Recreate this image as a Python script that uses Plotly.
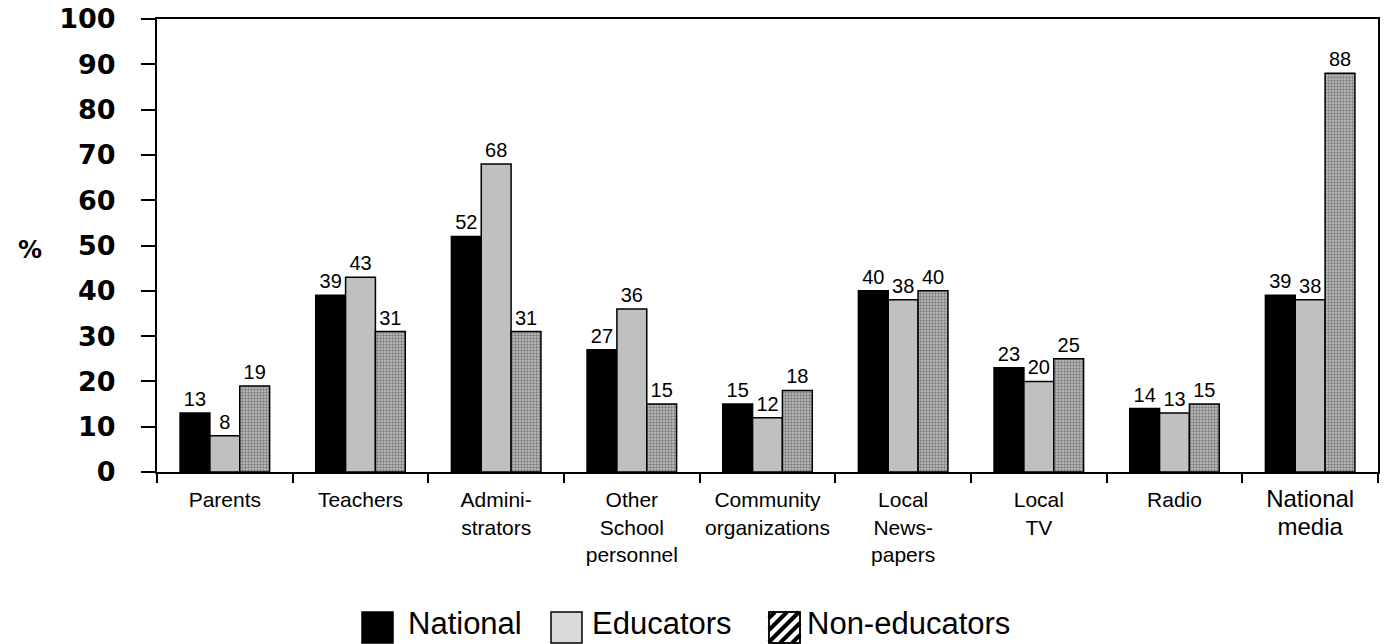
import plotly.graph_objects as go

categories = ["Parents", "Teachers", "Admini-<br>strators", "Other<br>School<br>personnel",
              "Community<br>organizations", "Local<br>News-<br>papers", "Local<br>TV", "Radio",
              "<span style='font-size:24px'>National<br>media</span>"]
national = [13, 39, 52, 27, 15, 40, 23, 14, 39]
educators = [8, 43, 68, 36, 12, 38, 20, 13, 38]
non_educators = [19, 31, 31, 15, 18, 40, 25, 15, 88]
y_ticks = [0, 10, 20, 30, 40, 50, 60, 70, 80, 90, 100]
series_names = ["National", "Educators", "Non-educators"]

W, H = 1385, 644
L, R, T, B = 157, 7, 19, 172
PW, PH = W - L - R, H - T - B


def px(x):
    return (x - L) / PW


def py(y):
    return (H - B - y) / PH


label_font = dict(family="Liberation Sans, Arial, sans-serif", size=20, color="black")

fig = go.Figure()
fig.add_trace(go.Bar(
    x=categories, y=national, name=series_names[0],
    marker=dict(color="black", line=dict(color="black", width=1.5)),
    text=national, textposition="outside", textfont=label_font, cliponaxis=False,
))
fig.add_trace(go.Bar(
    x=categories, y=educators, name=series_names[1],
    marker=dict(color="#c0c0c0", line=dict(color="black", width=1.5)),
    text=educators, textposition="outside", textfont=label_font, cliponaxis=False,
))
fig.add_trace(go.Bar(
    x=categories, y=non_educators, name=series_names[2],
    marker=dict(color="#999999", line=dict(color="black", width=1.5),
                pattern=dict(shape=".", size=3, solidity=0.5, fgcolor="#333333",
                             bgcolor="#c4c4c4")),
    text=non_educators, textposition="outside", textfont=label_font, cliponaxis=False,
))

fig.update_layout(
    width=W, height=H,
    margin=dict(l=L, r=R, t=T, b=B, autoexpand=False),
    paper_bgcolor="white", plot_bgcolor="white",
    barmode="group", bargap=0.34, bargroupgap=0,
    font=dict(family="Liberation Sans, Arial, sans-serif", color="black"),
    showlegend=False,
    uniformtext=dict(minsize=18, mode="show"),
)
fig.update_xaxes(
    type="category", showline=True, linecolor="black", linewidth=2, mirror=True,
    ticks="outside", tickson="boundaries", ticklen=9, tickwidth=2, tickcolor="black",
    ticklabelstandoff=8, automargin=False, tickangle=0,
    tickfont=dict(size=21, color="black"), showgrid=False,
)
fig.update_yaxes(
    range=[0, 100], tickvals=y_ticks, showline=True, linecolor="black", linewidth=2, mirror=True,
    ticks="outside", ticklen=14, tickwidth=2, tickcolor="black", ticklabelstandoff=20,
    automargin=False,
    tickfont=dict(family="DejaVu Sans", size=27, color="black", weight="bold"),
    showgrid=False, zeroline=False,
)
fig.add_annotation(text="<b>%</b>", xref="paper", yref="paper", x=px(30), y=py(250),
                   xanchor="center", yanchor="middle", showarrow=False,
                   font=dict(family="DejaVu Sans", size=24, color="black"))

# Legend drawn manually (large swatches as in the reference)
legend_font = dict(family="Liberation Sans, Arial, sans-serif", size=31, color="black")
box_top, box_size = 612, 31
swatches = [(362, "black", 406), (551, "#d9d9d9", 590), (769, "white", 805)]
for i, (bx, fill, tx) in enumerate(swatches):
    fig.add_shape(type="rect", xref="paper", yref="paper",
                  x0=px(bx), x1=px(bx + box_size), y0=py(box_top + box_size), y1=py(box_top),
                  fillcolor=fill, line=dict(color="black", width=1.5))
    fig.add_annotation(text=series_names[i], xref="paper", yref="paper", x=px(tx), y=py(623),
                       xanchor="left", yanchor="middle", showarrow=False, font=legend_font)

# diagonal stripes for the Non-educators swatch
bx, by, s = 769, box_top, box_size
for off in [6, 18, 30, 42, 54]:
    k = bx + by + off
    if k <= bx + by + s:
        x0, y0, x1, y1 = bx, k - bx, k - by, by
    else:
        x0, y0, x1, y1 = k - by - s, by + s, bx + s, k - bx - s
    fig.add_shape(type="line", xref="paper", yref="paper",
                  x0=px(x0), y0=py(y0), x1=px(x1), y1=py(y1),
                  line=dict(color="black", width=4))
fig.add_shape(type="rect", xref="paper", yref="paper",
              x0=px(bx), x1=px(bx + s), y0=py(by + s), y1=py(by),
              fillcolor="rgba(0,0,0,0)", line=dict(color="black", width=1.5))

fig.write_html("out.html", config={"displayModeBar": False},
               post_script="document.body.style.margin='0px';")
